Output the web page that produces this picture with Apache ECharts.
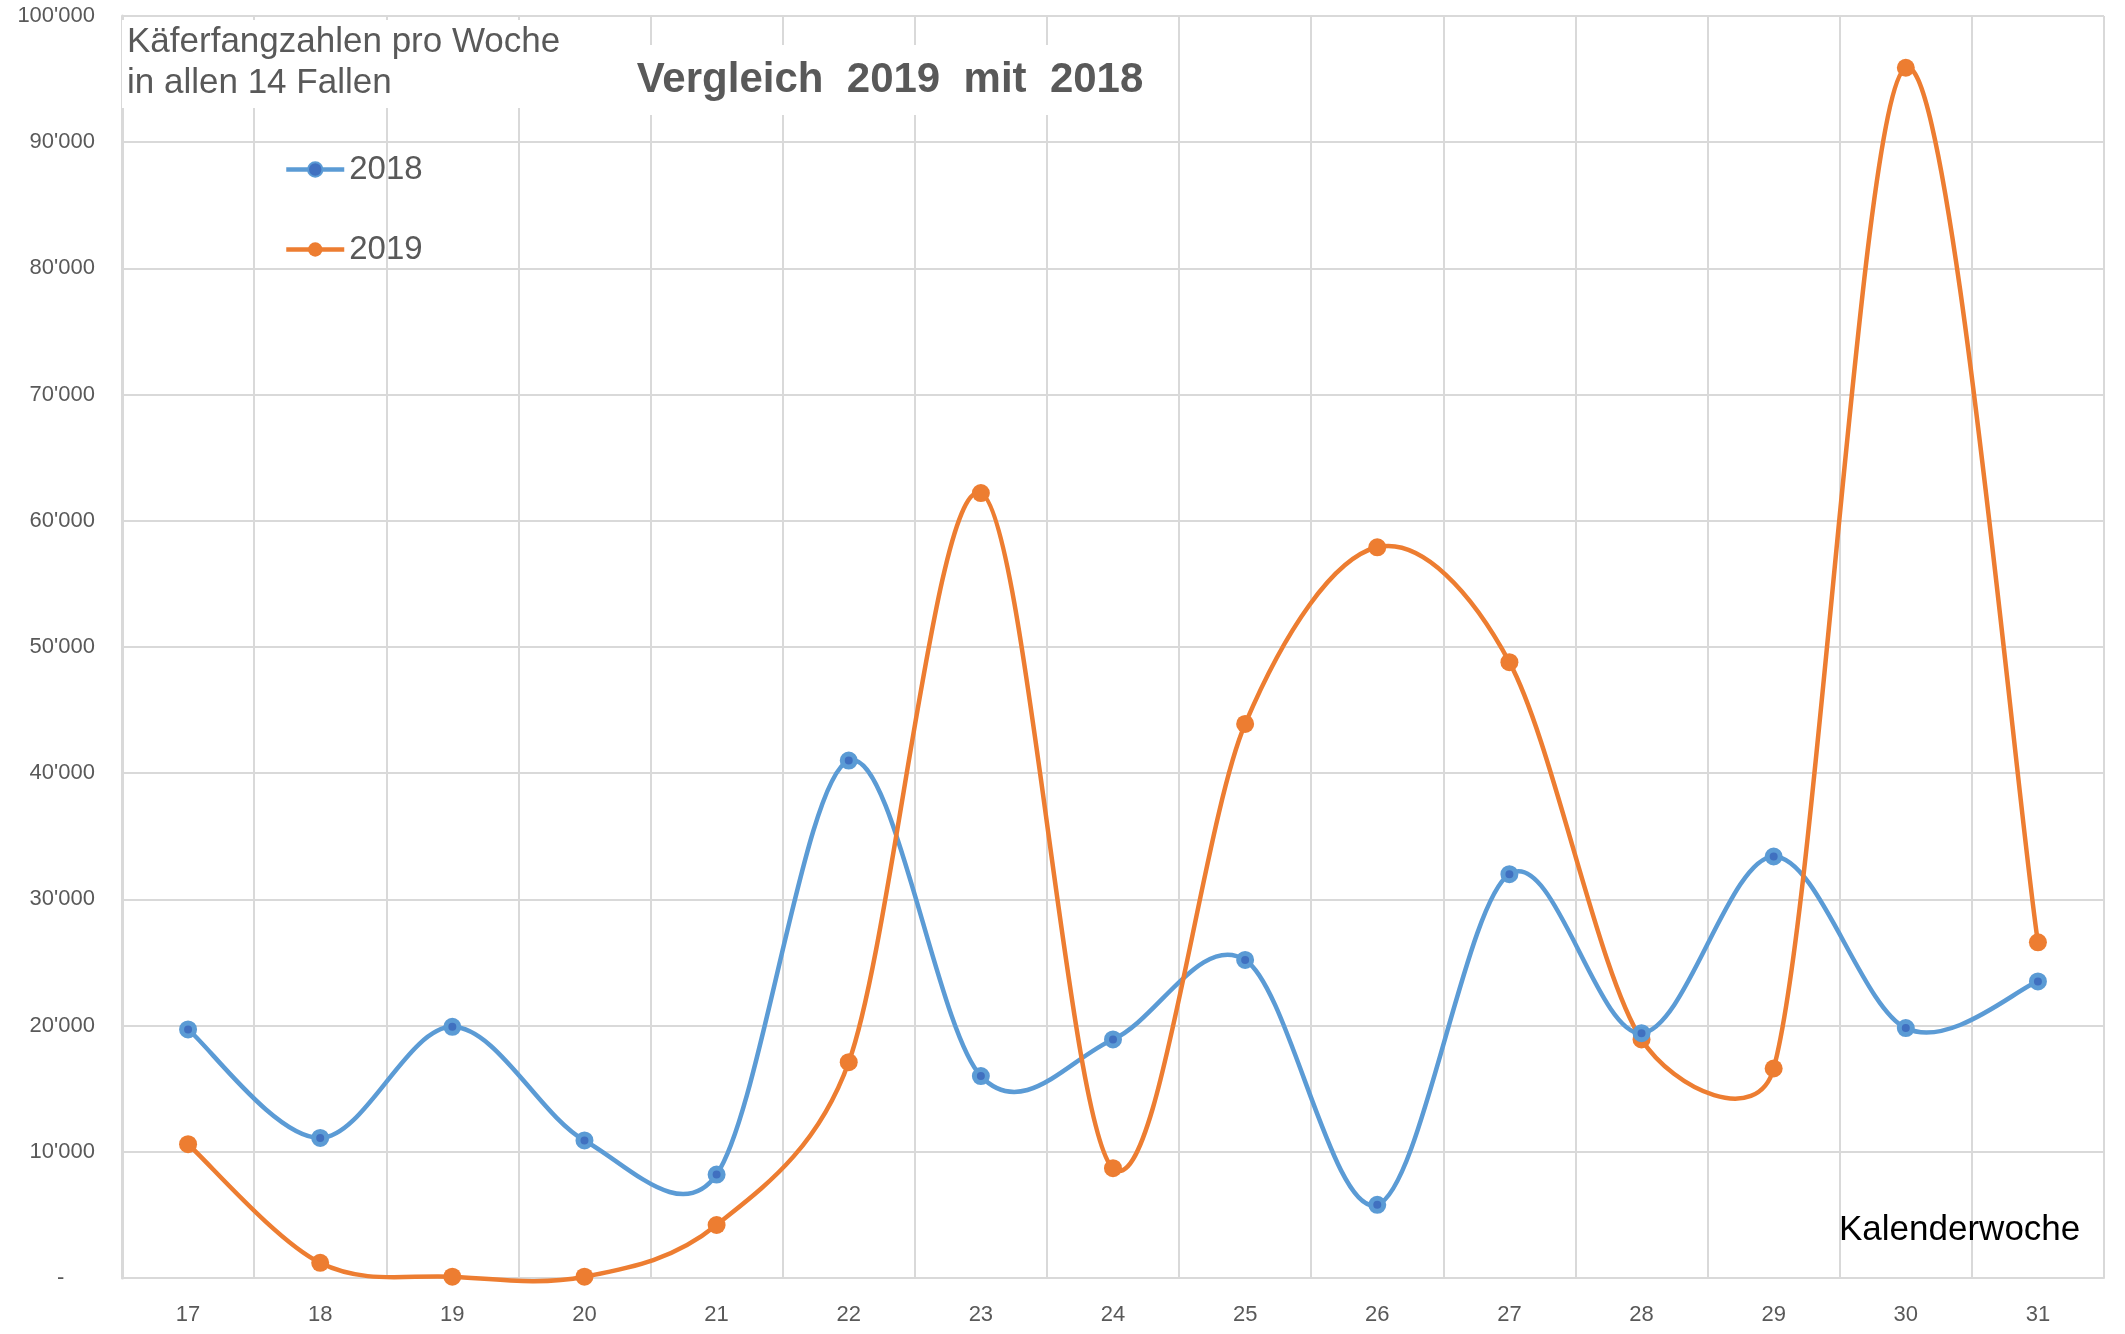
<!DOCTYPE html>
<html lang="de">
<head>
    <meta charset="UTF-8">
    <title>Käferfangzahlen</title>
    <style>
        body, html {
            margin: 0;
            width: 100%;
            height: 100%;
            background: #fff;
        }

        #main {
            width: 2125px;
            height: 1334px;
        }
    </style>
</head>
<body>
<div id="main"></div>
<script src="https://cdn.jsdelivr.net/npm/echarts@6/dist/echarts.min.js"></script>
<script>

    // Kalenderwochen
    let weeks = ['17', '18', '19', '20', '21', '22', '23', '24', '25', '26', '27', '28', '29', '30', '31'];
    let data2018 = [19700, 11100, 19900, 10900, 8200, 41000, 16000, 18900, 25200, 5800, 32000, 19400, 33400, 19800, 23500];
    let data2019 = [10600, 1200, 100, 100, 4200, 17100, 62200, 8700, 43900, 57900, 48800, 18900, 16600, 95900, 26600];

    let gridColor = '#d9d9d9';
    let textColor = '#595959';
    let sans = '"Liberation Sans", Arial, sans-serif';
    let blue = '#5b9bd5';
    let orange = '#ed7d31';

    // 10000 -> 10'000, 0 -> -
    function fmt(v) {
        if (v === 0) return '-     ';
        return String(v).replace(/\B(?=(\d{3})+(?!\d))/g, "'");
    }

    // Tangente (P2-P0)/6, Länge begrenzt auf einen Teil der Segmentlänge
    function ctrl(p0, p2, seg) {
        let tx = (p2[0] - p0[0]) / 6;
        let ty = (p2[1] - p0[1]) / 6;
        let len = Math.sqrt(tx * tx + ty * ty);
        let lim = 0.45 * seg;
        let k = len > lim && len > 0 ? lim / len : 1;
        return [tx * k, ty * k];
    }

    // geglättete Linie wie in Excel
    function smoothLine(values, color) {
        return function (params, api) {
            if (params.dataIndex !== 0) return null;
            let pts = [];
            for (let i = 0; i < values.length; i++) {
                pts.push(api.coord([i, values[i]]));
            }
            let d = 'M' + pts[0][0] + ' ' + pts[0][1];
            for (let i = 0; i < pts.length - 1; i++) {
                let p0 = pts[Math.max(i - 1, 0)];
                let p1 = pts[i];
                let p2 = pts[i + 1];
                let p3 = pts[Math.min(i + 2, pts.length - 1)];
                let seg = Math.sqrt(Math.pow(p2[0] - p1[0], 2) + Math.pow(p2[1] - p1[1], 2));
                let t1 = ctrl(p0, p2, seg);
                let t2 = ctrl(p1, p3, seg);
                d += ' C' + (p1[0] + t1[0]) + ' ' + (p1[1] + t1[1]) + ' ' +
                    (p2[0] - t2[0]) + ' ' + (p2[1] - t2[1]) + ' ' + p2[0] + ' ' + p2[1];
            }
            return {
                type: 'path',
                shape: {pathData: d},
                style: {fill: 'none', stroke: color, lineWidth: 4.5, lineJoin: 'round'}
            };
        };
    }

    function pairs(values) {
        return values.map(function (v, i) {
            return [i, v];
        });
    }

    let myChart = echarts.init(document.getElementById('main'));
    let option = {
        animation: false,
        grid: {
            left: 122,
            right: 21,
            top: 16,
            bottom: 56
        },
        legend: {
            orient: 'vertical',
            left: 279,
            top: 148,
            itemWidth: 58,
            itemHeight: 18,
            itemGap: 47,
            lineStyle: {width: 4.5, opacity: 1},
            textStyle: {
                fontSize: 33,
                color: textColor,
                fontFamily: sans
            },
            data: ['2018', '2019']
        },
        xAxis: {
            type: 'category',
            data: weeks,
            boundaryGap: true,
            axisTick: {show: false},
            axisLine: {lineStyle: {color: gridColor, width: 2}},
            axisLabel: {
                interval: 0,
                margin: 26,
                fontSize: 22,
                color: textColor,
                fontFamily: sans
            },
            splitLine: {
                show: true,
                interval: 0,
                lineStyle: {color: gridColor, width: 2}
            }
        },
        yAxis: {
            type: 'value',
            min: 0,
            max: 100000,
            interval: 10000,
            axisLine: {show: true, lineStyle: {color: gridColor, width: 3}},
            axisTick: {show: false},
            axisLabel: {
                margin: 27,
                fontSize: 22,
                color: textColor,
                fontFamily: sans,
                formatter: fmt
            },
            splitLine: {lineStyle: {color: gridColor, width: 2}}
        },
        series: [
            {
                type: 'custom',
                data: pairs(data2018),
                encode: {x: 0, y: 1},
                renderItem: smoothLine(data2018, blue),
                silent: true,
                z: 2
            },
            {
                type: 'custom',
                data: pairs(data2019),
                encode: {x: 0, y: 1},
                renderItem: smoothLine(data2019, orange),
                silent: true,
                z: 2
            },
            {
                name: '2018',
                type: 'line',
                data: data2018,
                symbol: 'circle',
                symbolSize: 13,
                lineStyle: {color: blue, width: 4.5, opacity: 0},
                itemStyle: {color: '#4070c0', borderColor: blue, borderWidth: 5},
                z: 4
            },
            {
                name: '2019',
                type: 'line',
                data: data2019,
                symbol: 'circle',
                symbolSize: 18,
                lineStyle: {color: orange, width: 4.5, opacity: 0},
                itemStyle: {color: orange},
                z: 3
            }
        ],
        graphic: [
            {
                type: 'text',
                z: 100,
                x: 122,
                y: 20,
                style: {
                    text: 'Käferfangzahlen pro Woche\nin allen 14 Fallen',
                    font: '35px ' + sans,
                    fill: textColor,
                    lineHeight: 41,
                    backgroundColor: '#fff',
                    padding: [2, 10, 4, 5]
                }
            },
            {
                type: 'text',
                z: 100,
                x: 890,
                y: 80,
                style: {
                    text: 'Vergleich  2019  mit  2018',
                    font: 'bold 42px ' + sans,
                    fill: textColor,
                    align: 'center',
                    verticalAlign: 'middle',
                    backgroundColor: '#fff',
                    padding: [14, 24, 14, 24]
                }
            },
            {
                type: 'text',
                z: 100,
                x: 1839,
                y: 1230,
                style: {
                    text: 'Kalenderwoche',
                    font: '35px ' + sans,
                    fill: '#000',
                    verticalAlign: 'middle'
                }
            }
        ]
    };

    myChart.setOption(option);

</script>
</body>
</html>
